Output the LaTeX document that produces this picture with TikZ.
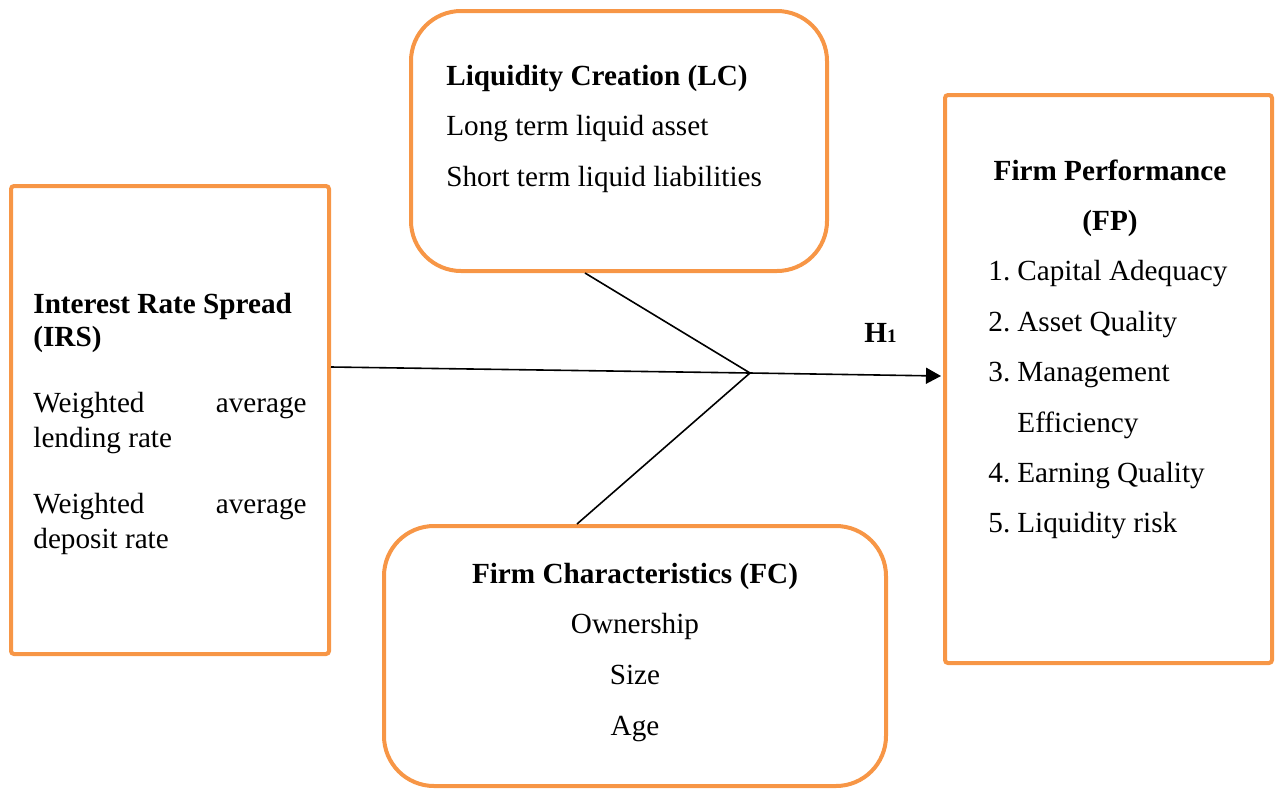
\documentclass[tikz,border=0pt]{standalone}
\usepackage{fontspec}
\setmainfont{Liberation Serif}
\usetikzlibrary{fit,arrows.meta}
\definecolor{boxorange}{HTML}{F79646}
\begin{document}
\begin{tikzpicture}[x=0.5pt,y=-0.5pt,
  every node/.style={font=\fontsize{14.6}{17}\selectfont},
  frame/.style={draw=boxorange, line width=2pt, inner sep=0pt},
  txt/.style={inner sep=0pt, anchor=base west},
  ctxt/.style={inner sep=0pt, anchor=base},
  rtxt/.style={inner sep=0pt, anchor=base east},
  link/.style={draw=black, line width=0.8pt}]
\useasboundingbox (0,0) rectangle (1275,788);

% boxes
\node[frame, rounded corners=1.5pt, fit={(11,186) (329,654)}] (IRS) {};
\node[frame, rounded corners=25pt, fit={(411,11) (827,271)}] (LC) {};
\node[frame, rounded corners=25pt, fit={(384,526) (886,786)}] (FC) {};
\node[frame, rounded corners=1.5pt, fit={(945,95) (1272,663)}] (FP) {};

% IRS text
\node[txt] (irs1) at (33,313) {\bfseries Interest Rate Spread};
\node[txt] (irs2) at (33,346) {\bfseries (IRS)};
\node[txt] (irs3) at (33,412) {Weighted};
\node[rtxt] (irs4) at (307,412) {average};
\node[txt] (irs5) at (33,447) {lending rate};
\node[txt] (irs6) at (33,513) {Weighted};
\node[rtxt] (irs7) at (307,513) {average};
\node[txt] (irs8) at (33,548) {deposit rate};

% LC text
\node[txt] (lc1) at (446,85) {\bfseries Liquidity Creation (LC)};
\node[txt] (lc2) at (446,135) {Long term liquid asset};
\node[txt] (lc3) at (446,186) {Short term liquid liabilities};

% FC text
\node[ctxt] (fc1) at (635,583) {\bfseries Firm Characteristics (FC)};
\node[ctxt] (fc2) at (635,633) {Ownership};
\node[ctxt] (fc3) at (635,684) {Size};
\node[ctxt] (fc4) at (635,735) {Age};

% FP text
\node[ctxt] (fp1) at (1110,180) {\bfseries Firm Performance};
\node[ctxt] (fp2) at (1110,230) {\bfseries (FP)};
\node[txt] (fp3) at (988,280) {\makebox[14.5pt][l]{1.}Capital Adequacy};
\node[txt] (fp4) at (988,331) {\makebox[14.5pt][l]{2.}Asset Quality};
\node[txt] (fp5) at (988,381) {\makebox[14.5pt][l]{3.}Management};
\node[txt] (fp6) at (1017,432) {Efficiency};
\node[txt] (fp7) at (988,482) {\makebox[14.5pt][l]{4.}Earning Quality};
\node[txt] (fp8) at (988,532) {\makebox[14.5pt][l]{5.}Liquidity risk};

% connectors
\coordinate (J) at (750,373);
\draw[link] ([yshift=26.5pt]IRS.east) -- (J);
\draw[link] ([xshift=-17pt]LC.south) -- (J);
\draw[link] ([xshift=-29pt]FC.north) -- (J);
\draw[link, -{Triangle[length=7.5pt,width=8pt]}] (J) -- ([xshift=-1pt,yshift=1.5pt]FP.west);

\node[txt] (H1) at (864,342) {\bfseries H{\fontsize{9.5}{10}\selectfont 1}};
\end{tikzpicture}
\end{document}
